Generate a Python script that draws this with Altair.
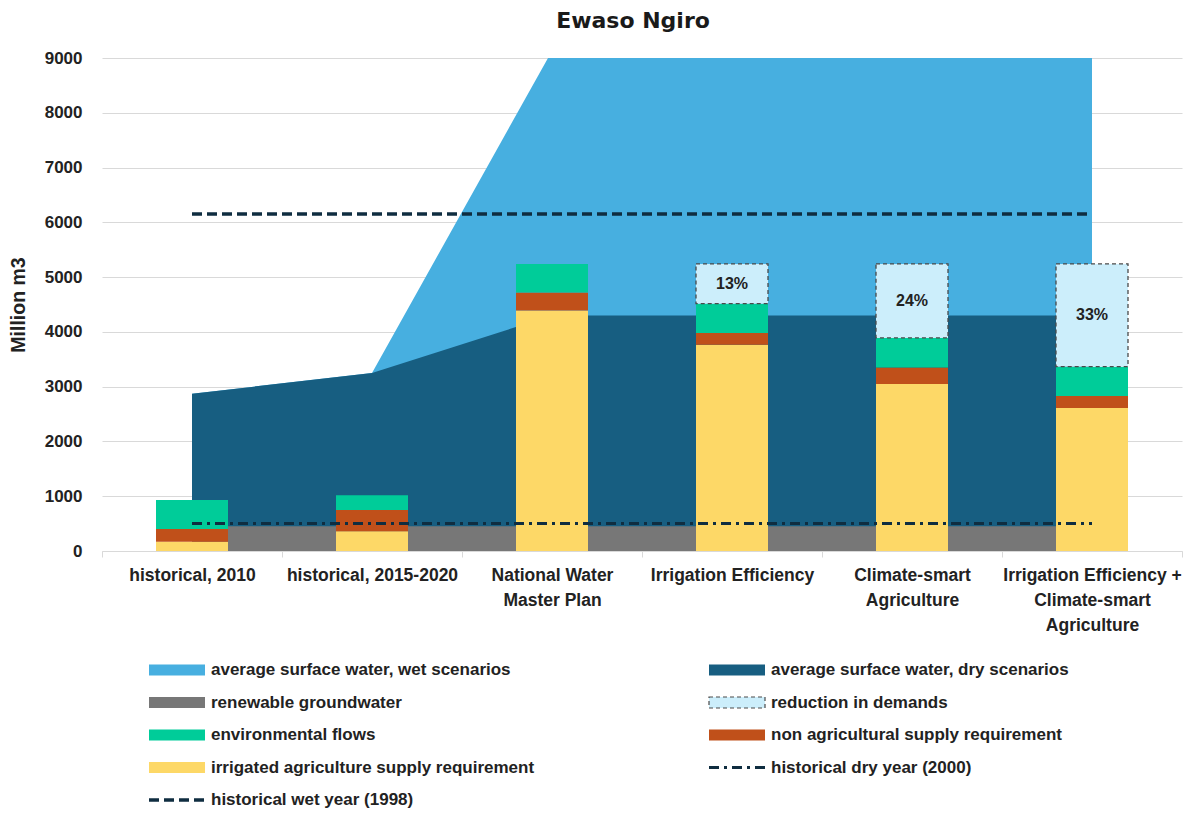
import altair as alt
import pandas as pd

# Scenario categories (line breaks mark how the axis labels wrap)
categories = [
    "historical, 2010",
    "historical, 2015-2020",
    "National Water\nMaster Plan",
    "Irrigation Efficiency",
    "Climate-smart\nAgriculture",
    "Irrigation Efficiency +\nClimate-smart\nAgriculture",
]

# Water availability, million m3
surface_wet = [2870, 3250, 9130, 9130, 9130, 9130]
surface_dry = [2870, 3250, 4300, 4300, 4300, 4300]
groundwater = [450, 450, 450, 450, 450, 450]

# Water demands, million m3
irrigated_agriculture = [170, 360, 4390, 3765, 3050, 2610]
non_agricultural = [230, 390, 330, 215, 300, 220]
environmental_flows = [530, 270, 520, 535, 540, 535]
reduction_in_demands = [0, 0, 0, 725, 1350, 1875]
reduction_labels = ["", "", "", "13%", "24%", "33%"]

# Historical reference years, million m3
wet_year_1998 = 6150
dry_year_2000 = 500

FONT = "Liberation Sans"
TEXT = "#222222"
GRID = "#d9d9d9"

C_WET = "#47AFE0"
C_DRY = "#175E81"
C_GW = "#777777"
C_ENV = "#00CC99"
C_NONAG = "#C0501A"
C_IRR = "#FDD867"
C_RED = "#CCEEFB"
C_LINE = "#0F2D40"

segment_names = [
    "irrigated agriculture supply requirement",
    "non agricultural supply requirement",
    "environmental flows",
]
segment_colors = [C_IRR, C_NONAG, C_ENV]

# ---- tables ----
areas = pd.DataFrame(
    {"category": categories, "wet": surface_wet, "dry": surface_dry, "gw": groundwater}
)

stack_rows = []
red_rows = []
for i, cat in enumerate(categories):
    base = 0
    for name, vals in zip(
        segment_names, [irrigated_agriculture, non_agricultural, environmental_flows]
    ):
        stack_rows.append({"category": cat, "segment": name, "y0": base, "y1": base + vals[i]})
        base += vals[i]
    if reduction_in_demands[i] > 0:
        red_rows.append(
            {
                "category": cat,
                "y0": base,
                "y1": base + reduction_in_demands[i],
                "mid": base + reduction_in_demands[i] / 2,
                "label": reduction_labels[i],
            }
        )
stack = pd.DataFrame(stack_rows)
reduction = pd.DataFrame(red_rows)

ref_lines = pd.DataFrame(
    {
        "category": categories,
        "wet_year": [wet_year_1998] * len(categories),
        "dry_year": [dry_year_2000] * len(categories),
    }
)

# ---- shared scales / axes ----
x_axis = alt.Axis(
    title=None,
    labelAngle=0,
    labelFont=FONT,
    labelFontSize=17.5,
    labelFontWeight="bold",
    labelColor=TEXT,
    labelExpr="split(datum.label, '\\n')",
    labelLineHeight=25,
    labelPadding=9,
    labelLimit=0,
    tickBand="extent",
    tickColor=GRID,
    tickSize=6,
    domainColor=GRID,
    domainWidth=1.2,
    grid=False,
)
y_axis = alt.Axis(
    title="Million m3",
    titleFont=FONT,
    titleFontSize=19.5,
    titleFontWeight="bold",
    titleColor=TEXT,
    titlePadding=16,
    values=list(range(0, 9001, 1000)),
    format="d",
    labelFont=FONT,
    labelFontSize=17,
    labelFontWeight="bold",
    labelColor=TEXT,
    labelPadding=20,
    ticks=False,
    domain=False,
    gridColor=GRID,
    gridWidth=1.2,
)
x_scale = alt.Scale(paddingInner=0, paddingOuter=0)
y_scale = alt.Scale(domain=[0, 9000], nice=False)


def xenc(center=False):
    kw = dict(field="category", type="nominal", sort=categories, scale=x_scale, axis=x_axis)
    if center:
        kw["bandPosition"] = 0.5
    return alt.X(**kw)


def yenc(field):
    return alt.Y(field=field, type="quantitative", scale=y_scale, axis=y_axis)


wet_area = alt.Chart(areas).mark_area(color=C_WET, clip=True, opacity=1).encode(
    x=xenc(True), y=yenc("wet")
)
dry_area = alt.Chart(areas).mark_area(color=C_DRY, clip=True, opacity=1).encode(
    x=xenc(True), y=yenc("dry")
)
gw_area = alt.Chart(areas).mark_area(color=C_GW, clip=True, opacity=1).encode(
    x=xenc(True), y=yenc("gw")
)

bars = alt.Chart(stack).mark_bar(width=alt.RelativeBandSize(0.4)).encode(
    x=xenc(),
    y=yenc("y0"),
    y2="y1",
    color=alt.Color(
        "segment:N",
        scale=alt.Scale(domain=segment_names, range=segment_colors),
        legend=None,
    ),
)

red_bars = alt.Chart(reduction).mark_bar(
    width=alt.RelativeBandSize(0.4),
    fill=C_RED,
    stroke="#4a4a4a",
    strokeWidth=1.3,
    strokeDash=[4, 3],
).encode(x=xenc(), y=yenc("y0"), y2="y1")

red_text = alt.Chart(reduction).mark_text(
    font=FONT, fontSize=16, fontWeight="bold", color=TEXT, baseline="middle"
).encode(x=xenc(True), y=yenc("mid"), text="label:N")

wet_line = alt.Chart(ref_lines).mark_line(
    color=C_LINE, strokeWidth=3.5, strokeDash=[10, 5]
).encode(x=xenc(True), y=yenc("wet_year"))

dry_line = alt.Chart(ref_lines).mark_line(
    color=C_LINE, strokeWidth=3, strokeDash=[10, 5, 3, 5]
).encode(x=xenc(True), y=yenc("dry_year"))

main = alt.layer(
    wet_area, dry_area, gw_area, bars, red_bars, red_text, wet_line, dry_line
).properties(
    width=1080,
    height=493,
    title=alt.TitleParams(
        "Ewaso Ngiro",
        font="DejaVu Sans",
        fontSize=22,
        fontWeight="bold",
        color="#1a1a1a",
        anchor="middle",
        offset=16,
        dx=-9,
    ),
)

# ---- legend panel ----
legend_labels = [
    "average surface water, wet scenarios",
    "average surface water, dry scenarios",
    "renewable groundwater",
    "reduction in demands",
    "environmental flows",
    "non agricultural supply requirement",
    "irrigated agriculture supply requirement",
    "historical dry year (2000)",
    "historical wet year (1998)",
]
legend_kinds = ["fill", "fill", "fill", "dashbox", "fill", "fill", "fill", "dashdot", "dash"]
legend_colors = [C_WET, C_DRY, C_GW, C_RED, C_ENV, C_NONAG, C_IRR, C_LINE, C_LINE]
legend_col = [0, 1, 0, 1, 0, 1, 0, 1, 0]
legend_row = [0, 0, 1, 1, 2, 2, 3, 3, 4]

leg = pd.DataFrame(
    {
        "label": legend_labels,
        "kind": legend_kinds,
        "col": legend_col,
        "row": legend_row,
    }
)

lx = alt.X("col:Q", scale=alt.Scale(domain=[0, 1], range=[47, 607]), axis=None)
ly = alt.Y("row:Q", scale=alt.Scale(domain=[0, 4], range=[35, 165]), axis=None)
swatch_color = alt.Color(
    "label:N", scale=alt.Scale(domain=legend_labels, range=legend_colors), legend=None
)

leg_base = alt.Chart(leg)
leg_fill = leg_base.transform_filter(alt.datum.kind == "fill").mark_rect(
    x2Offset=56, yOffset=-5.5, y2Offset=5.5
).encode(x=lx, x2="col:Q", y=ly, y2="row:Q", color=swatch_color)
leg_box = leg_base.transform_filter(alt.datum.kind == "dashbox").mark_rect(
    x2Offset=56,
    yOffset=-5.5,
    y2Offset=5.5,
    fill=C_RED,
    stroke="#4a4a4a",
    strokeWidth=1.2,
    strokeDash=[4, 3],
).encode(x=lx, x2="col:Q", y=ly, y2="row:Q")
leg_dash = leg_base.transform_filter(alt.datum.kind == "dash").mark_rule(
    x2Offset=56, color=C_LINE, strokeWidth=3.5, strokeDash=[10, 5]
).encode(x=lx, x2="col:Q", y=ly)
leg_dashdot = leg_base.transform_filter(alt.datum.kind == "dashdot").mark_rule(
    x2Offset=56, color=C_LINE, strokeWidth=3, strokeDash=[10, 5, 3, 5]
).encode(x=lx, x2="col:Q", y=ly)
leg_text = leg_base.mark_text(
    align="left", baseline="middle", dx=62, font=FONT, fontSize=17, fontWeight="bold", color=TEXT
).encode(x=lx, y=ly, text="label:N")

legend = alt.layer(leg_fill, leg_box, leg_dash, leg_dashdot, leg_text).properties(
    width=1000, height=170
)

chart = (
    alt.vconcat(main, legend, spacing=0)
    .resolve_scale(color="independent")
    .properties(padding={"left": 7, "top": 9, "right": 0, "bottom": 0})
    .configure(font=FONT)
    .configure_view(stroke="transparent")
)

chart.save("out.html", embed_options={"renderer": "svg", "actions": False})
